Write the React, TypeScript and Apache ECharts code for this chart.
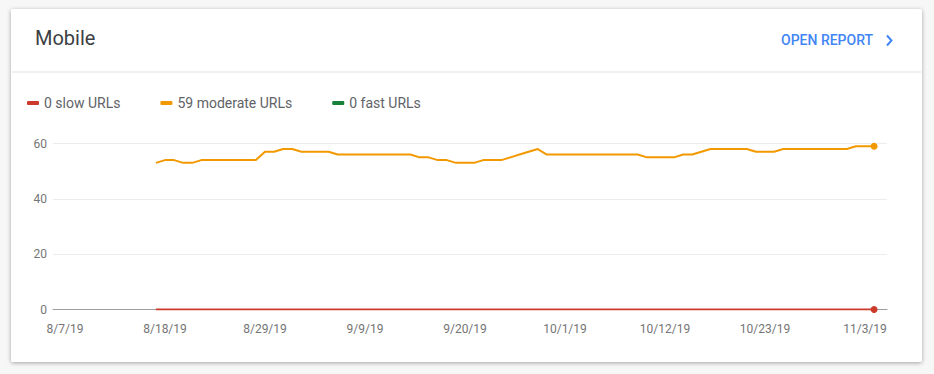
import React, { useEffect, useRef } from "react";
import * as echarts from "echarts";

// Tick labels on the date axis (day offsets counted from 8/7/19)
const xTickLabels = ["8/7/19", "8/18/19", "8/29/19", "9/9/19", "9/20/19", "10/1/19", "10/12/19", "10/23/19", "11/3/19"];
const xTickDays = [0, 11, 22, 33, 44, 55, 66, 77, 88];
const yTicks = [0, 20, 40, 60];

// First day of data (offset from 8/7/19)
const dataStartDay = 10;

const seriesNames = ["0 slow URLs", "59 moderate URLs", "0 fast URLs"];

const moderateUrls = [
  53, 54, 54, 53, 53, 54, 54, 54, 54, 54,
  54, 54, 57, 57, 58, 58, 57, 57, 57, 57,
  56, 56, 56, 56, 56, 56, 56, 56, 56, 55,
  55, 54, 54, 53, 53, 53, 54, 54, 54, 55,
  56, 57, 58, 56, 56, 56, 56, 56, 56, 56,
  56, 56, 56, 56, 55, 55, 55, 55, 56, 56,
  57, 58, 58, 58, 58, 58, 57, 57, 57, 58,
  58, 58, 58, 58, 58, 58, 58, 59, 59, 59,
];

const slowUrls = [
  0, 0, 0, 0, 0, 0, 0, 0, 0, 0,
  0, 0, 0, 0, 0, 0, 0, 0, 0, 0,
  0, 0, 0, 0, 0, 0, 0, 0, 0, 0,
  0, 0, 0, 0, 0, 0, 0, 0, 0, 0,
  0, 0, 0, 0, 0, 0, 0, 0, 0, 0,
  0, 0, 0, 0, 0, 0, 0, 0, 0, 0,
  0, 0, 0, 0, 0, 0, 0, 0, 0, 0,
  0, 0, 0, 0, 0, 0, 0, 0, 0, 0,
];

const fastUrls = [
  0, 0, 0, 0, 0, 0, 0, 0, 0, 0,
  0, 0, 0, 0, 0, 0, 0, 0, 0, 0,
  0, 0, 0, 0, 0, 0, 0, 0, 0, 0,
  0, 0, 0, 0, 0, 0, 0, 0, 0, 0,
  0, 0, 0, 0, 0, 0, 0, 0, 0, 0,
  0, 0, 0, 0, 0, 0, 0, 0, 0, 0,
  0, 0, 0, 0, 0, 0, 0, 0, 0, 0,
  0, 0, 0, 0, 0, 0, 0, 0, 0, 0,
];

const COLORS = { slow: "#cc3a2c", moderate: "#f29900", fast: "#188038" };
const FONT = "Roboto, 'Noto Sans', sans-serif";

function toPoints(values: number[]) {
  return values.map((v, i) => [dataStartDay + i, v]);
}

function lineSeries(name: string, values: number[], color: string, z: number, hidden = false) {
  const last = values.length - 1;
  return {
    name,
    type: "line",
    data: toPoints(values),
    z,
    showSymbol: !hidden,
    symbol: (_v: any, p: any) => (p.dataIndex === last ? "circle" : "none"),
    symbolSize: 7,
    lineStyle: { color, width: 2, opacity: hidden ? 0 : 1 },
    itemStyle: { color },
    emphasis: { disabled: true },
  };
}

export default function App() {
  const ref = useRef<HTMLDivElement>(null);

  useEffect(() => {
    if (!ref.current) return;
    const chart = echarts.init(ref.current, null, { renderer: "svg" });
    chart.setOption({
      animation: false,
      backgroundColor: "#f7f7f7",
      textStyle: { fontFamily: FONT },
      graphic: [
        {
          type: "rect",
          z: -10,
          shape: { x: 11, y: 9, width: 911, height: 353, r: 2 },
          style: {
            fill: "#ffffff",
            shadowBlur: 4,
            shadowOffsetY: 1,
            shadowColor: "rgba(0,0,0,0.35)",
          },
        },
        {
          type: "line",
          z: -5,
          shape: { x1: 12, y1: 72, x2: 921, y2: 72 },
          style: { stroke: "#e0e0e0", lineWidth: 1 },
        },
        {
          type: "text",
          x: 35,
          y: 38,
          style: {
            text: "Mobile",
            fontSize: 20,
            fontFamily: FONT,
            fill: "#3c4043",
            verticalAlign: "middle",
          },
        },
        {
          type: "text",
          x: 781,
          y: 40,
          style: {
            text: "OPEN REPORT",
            fontSize: 14,
            fontWeight: 500,
            fontFamily: FONT,
            fill: "#4285f4",
            verticalAlign: "middle",
          },
        },
        {
          type: "polyline",
          shape: { points: [[887, 35.5], [891.5, 40.5], [887, 45.5]] },
          style: { stroke: "#4285f4", lineWidth: 2, fill: "none" },
        },
      ],
      legend: {
        left: 22,
        top: 91,
        icon: "roundRect",
        itemWidth: 12,
        itemHeight: 4,
        itemGap: 40,
        data: seriesNames,
        textStyle: { fontSize: 14, color: "#5f6368", fontFamily: FONT },
        selectedMode: false,
      },
      grid: { left: 53, right: 47, top: 143.5, bottom: 64.5 },
      xAxis: {
        type: "value",
        min: -1.32,
        max: 90.42,
        axisLine: { show: true, lineStyle: { color: "#9e9e9e", width: 1 } },
        axisTick: { show: false },
        splitLine: { show: false },
        axisLabel: {
          customValues: xTickDays,
          color: "#757575",
          fontSize: 12,
          fontFamily: FONT,
          margin: 13,
          formatter: (v: number) => {
            const i = xTickDays.indexOf(Math.round(v));
            return i >= 0 ? xTickLabels[i] : "";
          },
        },
      },
      yAxis: {
        type: "value",
        min: yTicks[0],
        max: yTicks[yTicks.length - 1],
        interval: 20,
        axisLine: { show: false },
        axisTick: { show: false },
        splitLine: { lineStyle: { color: "#ececec", width: 1 } },
        axisLabel: { color: "#757575", fontSize: 12, fontFamily: FONT, margin: 6 },
      },
      series: [
        lineSeries(seriesNames[2], fastUrls, COLORS.fast, 2, true),
        lineSeries(seriesNames[1], moderateUrls, COLORS.moderate, 3),
        lineSeries(seriesNames[0], slowUrls, COLORS.slow, 4),
      ],
      color: [COLORS.fast, COLORS.moderate, COLORS.slow],
    });
    return () => chart.dispose();
  }, []);

  return (
    <div
      ref={ref}
      style={{ position: "fixed", left: 0, top: 0, width: 934, height: 374 }}
    />
  );
}
